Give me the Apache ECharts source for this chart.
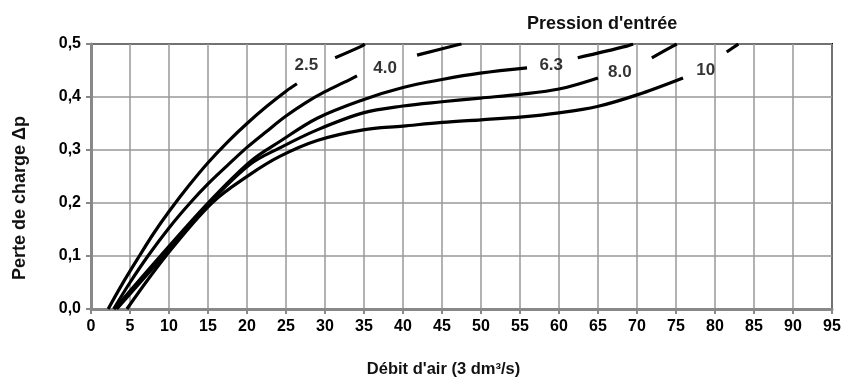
<!DOCTYPE html>
<html>
<head>
<meta charset="utf-8">
<script src="https://cdn.jsdelivr.net/npm/echarts@6/dist/echarts.min.js"></script>
<style>
  html, body { margin: 0; padding: 0; background: #fff; }
  #chart { width: 844px; height: 383px; }
</style>
</head>
<body>
<div id="chart"></div>
<script>
// pressure curves, null = gap where the label sits
const curve25 = [[2.2, 0], [4, 0.047], [6.2, 0.1], [8, 0.142], [10, 0.184], [12.5, 0.232], [15, 0.276], [17.5, 0.315],
  [20, 0.35], [22.5, 0.382], [25, 0.411], [26.4, 0.425], [28.5, null], [31.3, 0.474], [34.7, 0.496], [35.1, 0.5]];
const curve40 = [[2.9, 0], [5, 0.05], [7.3, 0.1], [10, 0.153], [12.7, 0.2], [15, 0.236], [17.5, 0.271], [20, 0.305],
  [22.5, 0.335], [25, 0.364], [27.5, 0.389], [30, 0.41], [32.5, 0.428], [34.1, 0.44], [38, null], [41.8, 0.479],
  [46.9, 0.498], [47.5, 0.5]];
const curve63 = [[3.0, 0], [8.9, 0.1], [15.0, 0.2], [20.4, 0.278], [24.2, 0.316], [29, 0.36], [34.9, 0.395], [40, 0.418],
  [45, 0.433], [49.9, 0.445], [55.9, 0.455], [59, null], [62.4, 0.474], [68.7, 0.496], [69.5, 0.5]];
const curve80 = [[3.3, 0], [9.3, 0.1], [15.2, 0.2], [20.4, 0.273], [24.2, 0.304], [29, 0.338], [34.9, 0.37], [40, 0.383],
  [45, 0.391], [49.9, 0.398], [55, 0.405], [60, 0.415], [65, 0.436], [68, null], [71.9, 0.474], [74.6, 0.496], [75.1, 0.5]];
const curve10 = [[4.6, 0], [9.6, 0.1], [15.5, 0.2], [20.4, 0.254], [24.2, 0.288], [29, 0.318], [34.9, 0.338], [40, 0.345],
  [45, 0.352], [50, 0.357], [55, 0.362], [60, 0.37], [64.9, 0.382], [70, 0.404], [75.9, 0.436], [79, null],
  [81.5, 0.485], [82.8, 0.498], [83, 0.5]];

const curveNames = ['2.5', '4.0', '6.3', '8.0', '10'];
const curves = [curve25, curve40, curve63, curve80, curve10];
const labelAt = [[27.6, 0.459], [37.7, 0.455], [59, 0.46], [67.8, 0.447], [78.8, 0.451]];

const chart = echarts.init(document.getElementById('chart'));
const font = 'Liberation Sans, Arial, sans-serif';

const series = curves.map(function (data, i) {
  return {
    name: curveNames[i],
    type: 'line',
    data: data,
    smooth: 0.35,
    showSymbol: false,
    connectNulls: false,
    lineStyle: { color: '#000', width: 3.2 },
    silent: true,
    z: 3
  };
});

series.push({
  type: 'scatter',
  symbolSize: 0,
  silent: true,
  data: labelAt.map(function (p, i) { return { value: p, name: curveNames[i] }; }),
  label: {
    show: true,
    position: 'inside',
    formatter: '{b}',
    color: '#000',
    fontSize: 17,
    fontWeight: 'bold',
    fontFamily: font
  },
  z: 4
});

const option = {
  animation: false,
  title: {
    text: "Pression d'entrée",
    left: 522,
    top: 10,
    textStyle: { color: '#111', fontSize: 18, fontWeight: 'bold', fontFamily: font }
  },
  // y axis title placed by hand, the axis name can't be shifted along the axis
  graphic: [{
    type: 'text',
    x: 20,
    y: 198,
    rotation: Math.PI / 2,
    style: {
      text: 'Perte de charge Δp',
      fill: '#111',
      font: 'bold 18px ' + font,
      align: 'center',
      verticalAlign: 'middle'
    }
  }],
  grid: {
    left: 91, right: 12, top: 44, bottom: 73,
    show: true,
    borderColor: '#000',
    borderWidth: 2
  },
  xAxis: {
    type: 'value',
    min: 0, max: 95, interval: 5,
    name: "Débit d'air (3 dm³/s)",
    nameLocation: 'middle',
    nameGap: 52,
    nameTextStyle: { color: '#111', fontSize: 16.5, fontWeight: 'bold', fontFamily: font, padding: [0, 36, 0, 0] },
    axisLine: { show: true, lineStyle: { color: '#888', width: 3 } },
    axisTick: { show: true, length: 5, lineStyle: { color: '#888', width: 2 } },
    axisLabel: { color: '#000', fontSize: 16, fontWeight: 'bold', fontFamily: font, margin: 10 },
    splitLine: { show: true, lineStyle: { color: '#999', width: 1.5 } }
  },
  yAxis: {
    type: 'value',
    min: 0, max: 0.5, interval: 0.1,
    axisLine: { show: true, lineStyle: { color: '#888', width: 3 } },
    axisTick: { show: true, length: 5, lineStyle: { color: '#888', width: 2 } },
    axisLabel: {
      color: '#000', fontSize: 16, fontWeight: 'bold', fontFamily: font, margin: 10,
      formatter: function (v) { return v.toFixed(1).replace('.', ','); }
    },
    splitLine: { show: true, lineStyle: { color: '#999', width: 1.5 } }
  },
  series: series
};

chart.setOption(option);
</script>
</body>
</html>
